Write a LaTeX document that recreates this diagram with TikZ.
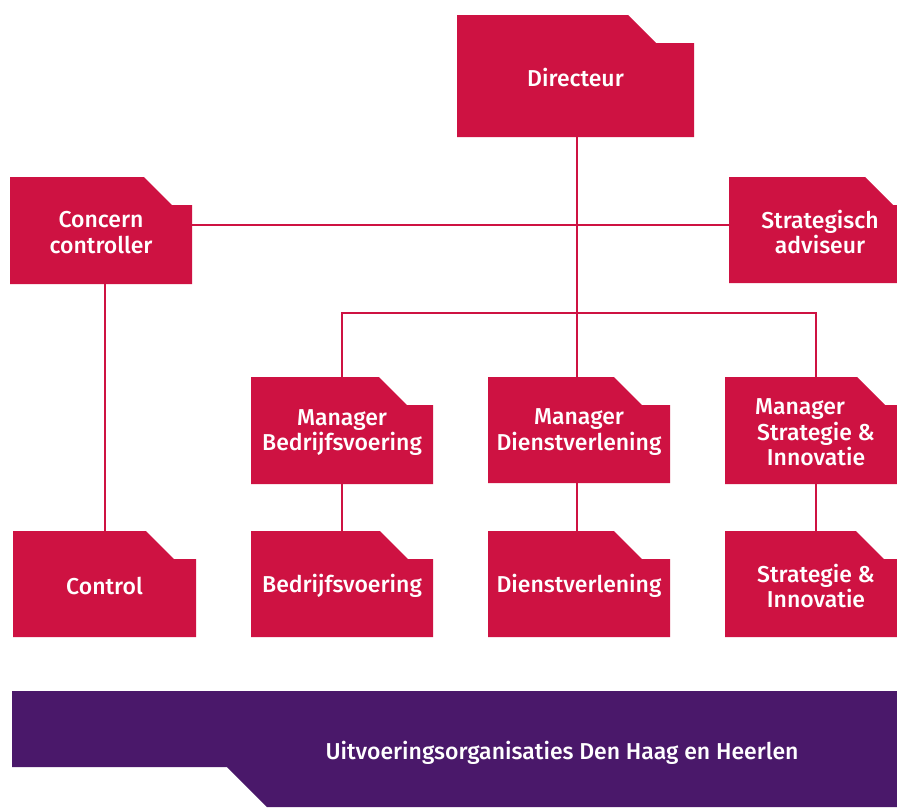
\documentclass[tikz,border=0pt]{standalone}
\usepackage{fontspec}
\setmainfont{Fira Sans Medium}
\definecolor{orgred}{RGB}{206,18,66}
\definecolor{orgpurple}{RGB}{74,24,106}
\tikzset{
  orgtext/.style={text=white, align=center, inner sep=0pt, font=\fontsize{23}{25.5}\selectfont},
  orgline/.style={draw=orgred, line width=2pt},
}
% #1 name, #2 left, #3 top, #4 width, #5 height, #6 notch start from left, #7 text
\newcommand\orgbox[7]{%
  \fill[orgred] (#2,#3) -- ++(#6,0) -- ++(28,28) -- (#2+#4,#3+28) -- (#2+#4,#3+#5) -- (#2,#3+#5) -- cycle;
  \node[inner sep=0pt, minimum width=#4pt, minimum height=#5pt] (#1) at (#2+#4/2,#3+#5/2) {};
  \node[orgtext, yshift=-2pt] (#1-t) at (#1.center) {#7};
}
\begin{document}
\begin{tikzpicture}[x=1pt,y=-1pt]
\useasboundingbox (0,0) rectangle (897,807);
\clip (0,0) rectangle (897,807);
% coordinates for junctions
\coordinate (j1) at (577,225);
\coordinate (j2) at (577,313);
% boxes
\orgbox{dir}{457}{15}{237}{122}{171}{Directeur}
\orgbox{cc}{10}{177}{182}{107}{134}{Concern\\controller}
\orgbox{sa}{729}{177}{182}{106}{136}{Strategisch\\adviseur}
\orgbox{mb}{251}{377}{182}{107}{128}{Manager\\Bedrijfsvoering}
\orgbox{md}{488}{377}{182}{106}{126}{Manager\\Dienstverlening}
\orgbox{ms}{725}{377}{182}{107}{132}{Manager\hspace*{32pt}\\Strategie \&\\Innovatie}
\orgbox{ctl}{13}{531}{183}{106}{133}{Control}
\orgbox{bv}{251}{531}{182}{106}{129}{Bedrijfsvoering}
\orgbox{dv}{488}{531}{182}{106}{126}{Dienstverlening}
\orgbox{si}{725}{531}{182}{106}{131}{Strategie \&\\Innovatie}
% connectors
\draw[orgline] (cc.east |- j1) -- (sa.west |- j1);
\draw[orgline] (dir.south -| j1) -- (md.north -| j1);
\draw[orgline] (mb.north) |- (j2) -| (ms.north);
\draw[orgline] (cc.south -| ctl.north) -- (ctl.north);
\draw[orgline] (mb.south) -- (bv.north);
\draw[orgline] (md.south -| j1) -- (dv.north -| j1);
\draw[orgline] (ms.south) -- (si.north);
% banner
\fill[orgpurple] (12,691) -- (897,691) -- (897,807) -- (267,807) -- (227,767) -- (12,767) -- cycle;
\node[orgtext] (uo) at (562,753) {Uitvoeringsorganisaties Den Haag en Heerlen};
\end{tikzpicture}
\end{document}
